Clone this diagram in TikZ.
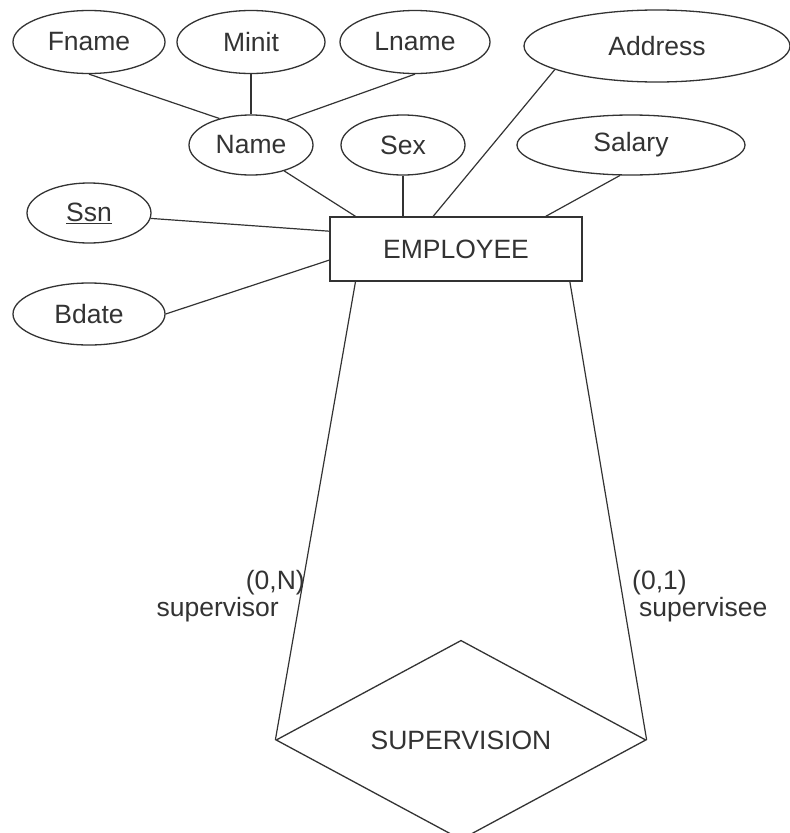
\documentclass[tikz,border=0pt]{standalone}
\usepackage{fontspec}
\setmainfont{Liberation Sans}
\usetikzlibrary{shapes.geometric}
\definecolor{ink}{HTML}{333333}
\begin{document}
\begin{tikzpicture}[x=1pt,y=-1pt,
  every node/.style={text=ink,font=\fontsize{26.5}{31}\selectfont},
  attr/.style={draw=ink,line width=1.3pt,ellipse,inner sep=0pt},
  entity/.style={draw=ink,line width=1.3pt,rectangle,inner sep=0pt,minimum width=252pt,minimum height=64pt},
  rel/.style={draw=ink,line width=1.3pt,diamond,inner sep=0pt,minimum width=370pt,minimum height=192pt},
  link/.style={draw=ink,line width=1.2pt},
  role/.style={inner sep=0pt}]
\useasboundingbox (0,0) rectangle (790,833);

% attributes
\node[attr,minimum width=152pt,minimum height=63pt] (fname) at (89,42) {Fname};
\node[attr,minimum width=148pt,minimum height=63pt] (minit) at (251,42) {Minit};
\node[attr,minimum width=150pt,minimum height=63pt] (lname) at (415,42) {Lname};
\node[attr,minimum width=266pt,minimum height=72pt] (address) at (657,46) {Address};
\node[attr,minimum width=124pt,minimum height=60pt] (name) at (251,145) {Name};
\node[attr,minimum width=124pt,minimum height=60pt] (sex) at (403,145) {Sex};
\node[attr,minimum width=228pt,minimum height=60pt] (salary) at (631,145) {Salary};
\node[attr,minimum width=124pt,minimum height=60pt] (ssn) at (89,213) {\underline{Ssn}};
\node[attr,minimum width=152pt,minimum height=62pt] (bdate) at (89,314) {Bdate};

% entity and relationship
\node[entity] (emp) at (456,249) {EMPLOYEE};
\node[rel] (sup) at (461,740) {SUPERVISION};

% composite attribute
\draw[link] (fname.south) -- (name.140.5);
\draw[link] (minit.south) -- (name.north);
\draw[link] (lname.south) -- (name.35);

% attributes of EMPLOYEE
\draw[link] (name.-38) -- (emp.162.1);
\draw[link] (sex.south) -- (sex.south |- emp.north);
\draw[link] (address.193) -- (emp.125.7);
\draw[link] (salary.250) -- (emp.20.2);
\draw[link] (ssn.-5) -- (emp.172.3);
\draw[link] (bdate.east) -- (emp.185.9);

% recursive relationship
\draw[link] (emp.198.4) -- (sup.west);
\draw[link] (emp.-16.65) -- (sup.east);

% role names and cardinalities
\node[role,anchor=east] (cardN) at (305,583) {(0,N)};
\node[role,anchor=east] (supervisor) at (279,610) {supervisor};
\node[role,anchor=west] (card1) at (632,583) {(0,1)};
\node[role,anchor=west] (supervisee) at (639,610) {supervisee};
\end{tikzpicture}
\end{document}
